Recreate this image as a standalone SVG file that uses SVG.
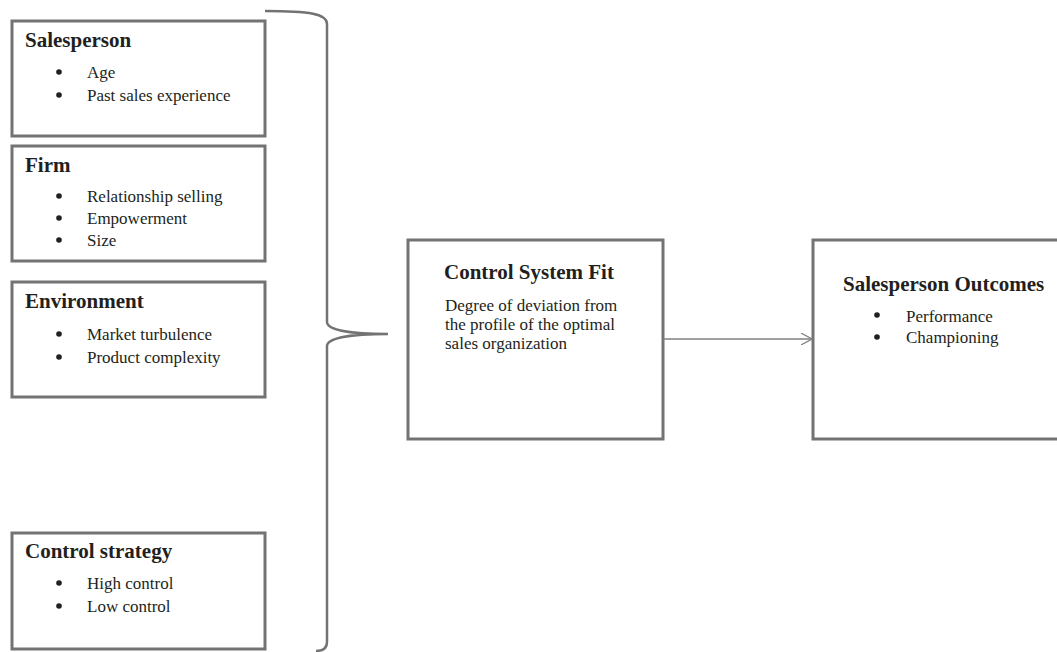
<svg xmlns="http://www.w3.org/2000/svg" width="1057" height="652" viewBox="0 0 1057 652">
<style>
.box{fill:#fff;stroke:#737373;stroke-width:3}
.t{font-family:"Liberation Serif","Times New Roman",serif;font-weight:bold;font-size:21px;fill:#231f20}
.i{font-family:"Liberation Serif","Times New Roman",serif;font-size:17px;fill:#231f20}
.b{fill:#231f20}
.br{fill:none;stroke:#737373;stroke-width:2.5}
.ar{fill:none;stroke:#808080;stroke-width:1.3}
</style>
<defs>
<marker id="arr" viewBox="0 0 12 12" refX="11" refY="6" markerWidth="12" markerHeight="12" markerUnits="userSpaceOnUse" orient="auto">
<path d="M0,0 L11,6 L0,12" fill="none" stroke="#808080" stroke-width="1.2"/>
</marker>
</defs>
<rect width="1057" height="652" fill="#fff"/>
<g id="salesperson">
<rect class="box" x="12" y="21" width="253" height="115"/>
<text class="t" x="25" y="47">Salesperson</text>
<circle class="b" cx="59" cy="72" r="2.8"/><text class="i" x="87" y="78">Age</text>
<circle class="b" cx="59" cy="95" r="2.8"/><text class="i" x="87" y="101">Past sales experience</text>
</g>
<g id="firm">
<rect class="box" x="12" y="146" width="253" height="115"/>
<text class="t" x="25" y="172">Firm</text>
<circle class="b" cx="59" cy="196" r="2.8"/><text class="i" x="87" y="202">Relationship selling</text>
<circle class="b" cx="59" cy="218" r="2.8"/><text class="i" x="87" y="224">Empowerment</text>
<circle class="b" cx="59" cy="240" r="2.8"/><text class="i" x="87" y="246">Size</text>
</g>
<g id="environment">
<rect class="box" x="12" y="282" width="253" height="115"/>
<text class="t" x="25" y="308">Environment</text>
<circle class="b" cx="59" cy="334" r="2.8"/><text class="i" x="87" y="340">Market turbulence</text>
<circle class="b" cx="59" cy="357" r="2.8"/><text class="i" x="87" y="363">Product complexity</text>
</g>
<g id="control-strategy">
<rect class="box" x="12" y="533" width="253" height="116"/>
<text class="t" x="25" y="558">Control strategy</text>
<circle class="b" cx="59" cy="583" r="2.8"/><text class="i" x="87" y="589">High control</text>
<circle class="b" cx="59" cy="606" r="2.8"/><text class="i" x="87" y="612">Low control</text>
</g>
<g id="control-system-fit">
<rect class="box" x="408" y="240" width="255" height="199"/>
<text class="t" x="444" y="279">Control System Fit</text>
<text class="i" x="445" y="311">Degree of deviation from</text>
<text class="i" x="445" y="330">the profile of the optimal</text>
<text class="i" x="445" y="349">sales organization</text>
</g>
<g id="salesperson-outcomes">
<rect class="box" x="813" y="240" width="250" height="199"/>
<text class="t" x="843" y="291">Salesperson Outcomes</text>
<circle class="b" cx="877" cy="315" r="2.8"/><text class="i" x="906" y="322">Performance</text>
<circle class="b" cx="877" cy="337" r="2.8"/><text class="i" x="906" y="343">Championing</text>
</g>
<g id="connectors">
<path class="br" d="M265,11 C310,11 327,14 327,24 L327,322 C327,330 350,334 388,334 C350,334 327,338 327,346 L327,642 C327,648 324,651 316,651"/>
<line class="ar" x1="663" y1="339" x2="812" y2="339" marker-end="url(#arr)"/>
</g>
</svg>
